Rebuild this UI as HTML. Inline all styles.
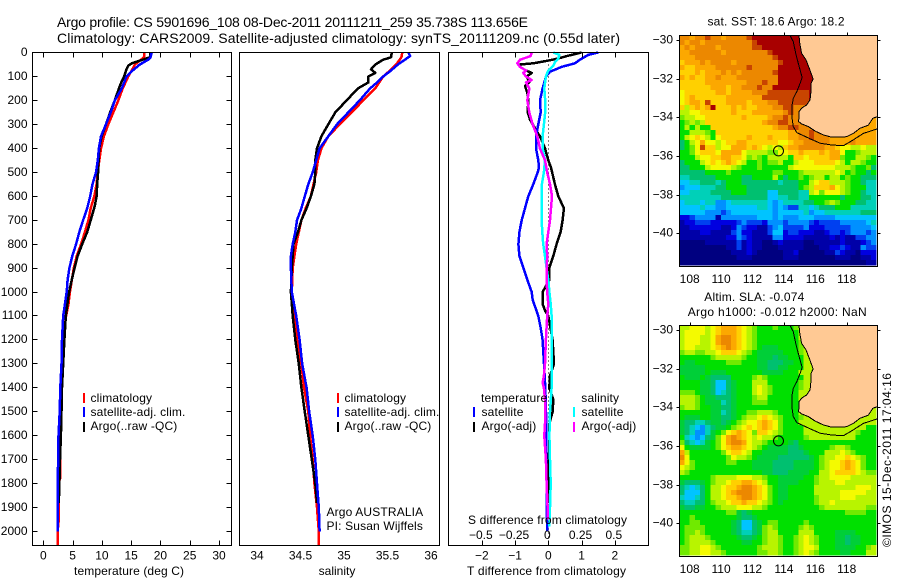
<!DOCTYPE html>
<html lang="en">
<head>
<meta charset="utf-8">
<title>Argo profile 5901696_108</title>
<style>
html,body{margin:0;padding:0;background:#fff}
svg{display:block}
text{font-family:"Liberation Sans",sans-serif;font-size:12px;fill:#000}
.title{font-size:14px}
.lg{letter-spacing:.15px}
.frame{fill:none;stroke:#000;stroke-width:1;shape-rendering:crispEdges}
.tick{stroke:#000;stroke-width:1;shape-rendering:crispEdges}
.key{stroke-width:2;shape-rendering:crispEdges}
.series{fill:none;stroke-width:2.5;shape-rendering:crispEdges;stroke-linejoin:round}
</style>
</head>
<body>
<svg id="figure" xmlns="http://www.w3.org/2000/svg" width="900" height="580" viewBox="0 0 900 580">
  <rect x="0" y="0" width="900" height="580" fill="#fff"/>
  <text class="title" x="57" y="27" textLength="471" lengthAdjust="spacing">Argo profile: CS 5901696_108 08-Dec-2011 20111211_259 35.738S 113.656E</text>
  <text class="title" x="57" y="43" textLength="563" lengthAdjust="spacing">Climatology: CARS2009. Satellite-adjusted climatology: synTS_20111209.nc (0.55d later)</text>

  <g id="panel-t"></g>
  <g id="panel-s"></g>
  <g id="panel-d"></g>
  <g id="map-sst"></g>
  <g id="map-sla"></g>

  <g>
    <line class="key" x1="84" x2="84" y1="393" y2="403" stroke="#f00"/>
    <text class="lg" x="90.5" y="402">climatology</text>
    <line class="key" x1="84" x2="84" y1="407" y2="417" stroke="#00f"/>
    <text class="lg" x="90.5" y="416">satellite-adj. clim.</text>
    <line class="key" x1="84" x2="84" y1="422" y2="432" stroke="#000"/>
    <text class="lg" x="90.5" y="430">Argo(..raw -QC)</text>
  </g>
  <g>
    <line class="key" x1="338" x2="338" y1="393" y2="403" stroke="#f00"/>
    <text class="lg" x="344.5" y="402">climatology</text>
    <line class="key" x1="338" x2="338" y1="407" y2="417" stroke="#00f"/>
    <text class="lg" x="344.5" y="416">satellite-adj. clim.</text>
    <line class="key" x1="338" x2="338" y1="422" y2="432" stroke="#000"/>
    <text class="lg" x="344.5" y="430">Argo(..raw -QC)</text>
    <text class="lg" x="326.5" y="516">Argo AUSTRALIA</text>
    <text class="lg" x="326.5" y="530">PI: Susan Wijffels</text>
  </g>
  <g>
    <text class="lg" x="481" y="402">temperature</text>
    <text class="lg" x="581.3" y="402">salinity</text>
    <line class="key" x1="474" x2="474" y1="407" y2="417" stroke="#00f"/>
    <text class="lg" x="481.5" y="416">satellite</text>
    <line class="key" x1="474" x2="474" y1="422" y2="432" stroke="#000"/>
    <text class="lg" x="481.5" y="430">Argo(-adj)</text>
    <line class="key" x1="574" x2="574" y1="407" y2="417" stroke="#0ff"/>
    <text class="lg" x="581.5" y="416">satellite</text>
    <line class="key" x1="574" x2="574" y1="422" y2="432" stroke="#f0f"/>
    <text class="lg" x="581.5" y="430">Argo(-adj)</text>
  </g>

  <text x="129" y="575" text-anchor="middle" textLength="110" lengthAdjust="spacing">temperature (deg C)</text>
  <text x="337" y="575" text-anchor="middle">salinity</text>
  <text x="546.5" y="575" text-anchor="middle" textLength="159" lengthAdjust="spacing">T difference from climatology</text>
  <text x="547.5" y="524" text-anchor="middle" textLength="159" lengthAdjust="spacing">S difference from climatology</text>

  <text x="776" y="25.5" text-anchor="middle" textLength="137" lengthAdjust="spacing">sat. SST: 18.6 Argo: 18.2</text>
  <text x="704.3" y="301" textLength="100" lengthAdjust="spacing">Altim. SLA: -0.074</text>
  <text x="687.7" y="316" textLength="179" lengthAdjust="spacing">Argo h1000: -0.012 h2000: NaN</text>
  <text transform="translate(891 547) rotate(-90)" textLength="174" lengthAdjust="spacing">©IMOS 15-Dec-2011 17:04:16</text>
</svg>

<script>
// ---------- temperature profiles (depth m, deg C) ----------
const tempClimDepth = [0,20,50,75,100,150,200,250,300,350,400,450,500,550,600,650,700,750,800,850,900,1000,1050,1100,1200,1300,1400,1500,1600,1700,1780,1800,1950,2000,2058];
const tempClimValue = [17.2,17.2,15.65,15.1,14.5,13.55,12.8,11.95,11.1,10.35,9.85,9.56,9.3,9.1,8.7,8.1,7.7,7.1,6.45,5.7,5.2,4.55,4.3,3.9,3.4,3.1,3.0,2.85,2.85,2.85,2.85,2.55,2.65,2.45,2.45];
const tempSatDepth = [0,20,30,50,75,100,150,200,250,300,350,400,450,500,550,600,650,700,750,800,850,900,950,1000,1100,1200,1300,1400,1500,1600,1700,1800,2000];
const tempSatValue = [18.5,18.3,17.9,16.5,15.25,14.2,13.4,12.2,11.5,10.7,9.85,9.5,9.3,9.0,8.4,8.0,7.5,6.8,6.15,5.6,4.95,4.45,4.15,4.0,3.4,3.2,3.1,2.9,2.8,2.6,2.55,2.45,2.45];
const tempArgoDepth = [0,20,30,45,55,70,100,120,150,200,250,300,350,400,450,500,550,600,640,700,750,800,850,900,950,1000,1100,1200,1300,1400,1500,1600,1700,1800,1880];
const tempArgoValue = [18.3,18.2,17,15.1,14.5,14.2,13.8,13.4,12.9,12.2,11.4,10.7,9.95,9.55,9.45,9.35,9.2,9.1,8.8,8.1,7.5,6.65,5.85,5.35,4.85,4.4,3.85,3.6,3.4,3.2,3.1,3,2.85,2.75,2.65];

// ---------- salinity profiles ----------
const salClimDepth = [0,20,50,75,100,150,200,250,300,350,400,450,500,550,600,650,700,750,800,850,900,1000,1100,1200,1300,1400,1500,1600,1700,1800,1900,2000,2058];
const salClimValue = [35.67,35.66,35.6,35.53,35.45,35.36,35.22,35.09,34.95,34.82,34.74,34.70,34.68,34.65,34.62,34.56,34.51,34.48,34.45,34.43,34.41,34.40,34.43,34.46,34.51,34.54,34.59,34.61,34.64,34.66,34.69,34.71,34.71];
const salSatDepth = [0,15,30,50,75,100,125,150,200,250,300,350,400,450,500,550,600,650,700,750,800,850,900,1000,1100,1200,1300,1400,1500,1600,1700,1800,1900,2000];
const salSatValue = [35.74,35.76,35.70,35.62,35.54,35.45,35.38,35.30,35.18,35.05,34.92,34.82,34.72,34.68,34.64,34.59,34.55,34.51,34.46,34.44,34.41,34.39,34.39,34.40,34.45,34.49,34.52,34.57,34.60,34.64,34.67,34.69,34.71,34.72];
const salArgoDepth = [0,20,30,50,70,85,100,125,150,200,250,300,350,400,450,500,550,600,650,700,750,800,850,900,1000,1100,1200,1300,1400,1500,1600,1700,1800,1880];
const salArgoValue = [35.55,35.54,35.45,35.36,35.31,35.36,35.28,35.28,35.16,35.03,34.90,34.82,34.74,34.69,34.67,34.67,34.66,34.62,34.57,34.51,34.47,34.42,34.41,34.40,34.39,34.41,34.44,34.48,34.51,34.55,34.59,34.63,34.67,34.69];

// ---------- differences from climatology ----------
const diffTSatDepth = [0,10,30,45,60,80,100,150,200,250,300,350,400,450,480,500,550,600,650,700,750,800,850,900,950,1000,1033,1100,1150,1200,1250,1300,1400,1500,1600,1700,1800,1900,2000];
const diffTSatValue = [1.5,1.2,.95,.8,.4,.05,-.07,-.17,-.25,-.23,-.3,-.37,-.37,-.3,-.28,-.32,-.45,-.6,-.7,-.8,-.87,-.9,-.87,-.75,-.63,-.5,-.47,-.3,-.23,-.17,-.15,-.13,-.09,-.07,-.07,-.07,-.05,-.05,-.03];
const diffTArgoDepth = [0,15,25,35,45,50,60,75,85,100,125,140,170,200,250,280,300,340,350,400,450,480,550,600,650,700,750,800,850,900,950,1000,1050,1080,1100,1200,1250,1300,1350,1400,1450,1500,1550,1650,1700,1800,1880];
const diffTArgoValue = [1,.55,.3,-.05,-.45,-.85,-.85,-.67,-.5,-.65,-.57,-.7,-.63,-.6,-.62,-.55,-.47,-.3,-.25,-.1,0,.08,.2,.3,.47,.43,.37,.25,.15,.03,.03,-.17,-.17,-.09,0,.13,.15,.17,.05,.03,.15,.13,.03,.03,.01,0,0];
const diffSSatDepth = [0,10,25,40,55,75,100,150,200,250,300,350,400,450,500,550,600,700,750,800,850,900,950,1000,1050,1100,1200,1300,1400,1500,1600,1700,1800,1900,1980];
const diffSSatValue = [.038,.083,.075,.05,.038,0,-.018,-.03,-.023,-.023,-.033,-.043,-.043,-.025,-.033,-.048,-.05,-.05,-.045,-.038,-.025,-.013,0,.008,.018,.025,.025,.025,.025,.013,.008,.013,.018,.013,.008];
const diffSArgoDepth = [0,15,30,45,60,75,85,100,115,125,150,200,250,300,350,400,450,500,550,600,650,700,750,800,850,900,950,1000,1050,1100,1200,1300,1350,1380,1400,1450,1500,1550,1600,1700,1800,1900,1950];
const diffSArgoValue = [-.125,-.133,-.213,-.233,-.213,-.168,-.188,-.168,-.125,-.168,-.143,-.158,-.143,-.118,-.083,-.063,-.025,-.008,.013,.028,.02,.013,0,-.013,-.008,-.013,-.013,-.008,0,-.008,-.018,-.025,-.033,-.043,-.033,-.025,-.025,-.025,-.03,-.018,-.013,-.005,-.005];

// ---------- tick labels ----------
const depthTicks = [0,100,200,300,400,500,600,700,800,900,1000,1100,1200,1300,1400,1500,1600,1700,1800,1900,2000];
const tempTicks = [0,5,10,15,20,25,30];
const salTicks = [34,34.5,35,35.5,36];
const diffTTicks = [-2,-1,0,1,2];
const diffSTicks = [-0.5,-0.25,0,0.25,0.5];
const lonTicks = [108,110,112,114,116,118];
const latTicks = [-30,-32,-34,-36,-38,-40];

// ---------- gridded map fields: one character per cell, index into the colour ramp ----------
const sstRows = [
"eedee feede eeefg ggggg ggggg ggggg ggggg ggg",
"edeed eeeee eeeef ggggg ggggg ggggg ggggg ggg",
"dedee eedee eeeef fgggg ggggg ggggg ggggg ggg",
"ddeee eeede eeeee eefgg ggggg ggggg ggggg ggg",
"dddee eeeee eeeee eeefg ggggg ggggg ggggg ggg",
"cddde deeee deeee eeeef ggggg ggggg ggggg ggg",
"dccdd ddeee eeefe eeeeg ggggg ggggg ggggg ggg",
"cccdc ddded edeee eeefg ggggg ggggg ggggg ggg",
"dcdcc ddedd deeee eeeeg ggggg ggggg ggggg ggg",
"ccccc ddddd dddee efeeg ggggg ggggg ggggg ggg",
"ccccc cdddc ddeee feegg ggggg ggggg ggggg ggg",
"bcccc ccddc dddde eefff fffff ggggg ggggg ggg",
"bcdcc ccccd ddddd dffff fffff ggggg ggggg ggg",
"bcddc fcccd dddcd ddeef fffff ggggg ggggg ggg",
"cacdc dgccc dcdcc dddee ffeee eeeee ddddd ddd",
"aabbc ccccc dcccd ddddd efeee eeeee ddddd ddd",
"9aabb ccccc ccdcc ccdee feeee ddddd ddddd ddd",
"89a9a ccccc ccccc cdeef feeee ddddd ddddd ddd",
"8a8a8 8cccc ccccc cccde effee eeddd ddddd ddd",
"88aaa 98ccc ccccc ccccc cddee feeee ddddd ddd",
"8abcb a8bcc cccdc ccdcc cddee feeed ddddd ddd",
"78abd bbabc cddcc ccccb bcdde eeeed ddded ddd",
"789bf ccabb dddcd cbaba cddee eeedd cbbaa baa",
"889bc ccbdd ddbaa aa99b bccdc ccdcd db889 aaa",
"888ab bccdd ccb9a 98aaa a8ccb ccccd d988a a98",
"7888a bcbcd cba88 9899a 88abb bcccc ba8aa 988",
"77888 abbbb a9888 98888 8abbb bbbbb aaa98 897",
"77777 88889 88888 88899 8889a aaaaa ba898 878",
"66777 77888 88778 888a8 78898 9aa8a a8988 777",
"55667 77678 88777 77776 77788 abcca aa988 766",
"45556 66778 88877 77777 77789 acccd ba988 866",
"55666 67777 88877 77557 77766 ab9bb ba988 766",
"66666 66677 77777 77556 67766 88888 87888 776",
"56665 66445 66666 66545 66667 7889a 98887 766",
"55556 55445 55555 66545 43366 56777 88866 666",
"55555 44434 55555 55545 55556 45566 66666 777",
"22344 44144 44444 55545 44455 54444 55555 555",
"12233 32222 23433 32444 34444 32333 34444 456",
"11222 22211 24322 11345 33334 22233 33344 445",
"11112 21111 34221 11355 23322 21123 32344 434",
"11111 11112 24321 11144 22221 11112 12113 344",
"00000 11111 13121 10012 11110 01111 12111 234",
"00000 00001 13121 10001 11110 00112 23211 433",
"00000 00000 11121 00000 11200 00011 32110 222",
"00000 00000 01110 00000 11100 00000 11100 112",
"00000 00000 00000 00000 00000 00000 00000 011"
];
const slaRows = [
"aabbb abcdd dcba9 88898 889aa aaaaa aaaaa aaa",
"abbbb abcdd dcba9 88888 888aa aaaaa aaaaa aaa",
"abbba abdee dcba9 88888 888aa aaaaa aaaaa aaa",
"abbba abdee dcba9 88888 8889a aaaaa aaaaa aaa",
"abbaa abcde dcba9 8mmm8 8889a aaaaa aaaaa aaa",
"9aa99 aabcc cba98 mmmmm 8889a aaaaa aaaaa aaa",
"88888 89aaa aa988 mmm7m m888a aaaaa aaaaa aaa",
"8mm88 88889 99888 mm777 mm88a aaaaa aaaaa aaa",
"mmmmm 88888 88888 mm77m m888a aaaaa aaaaa aaa",
"mmmmm 8mmm8 88888 8mmmm 888aa aaaaa aaaaa aaa",
"8mmm8 m7777 88889 a9888 8888a aaaaa aaaaa aaa",
"8888m m7557 m888a aa888 8889a aaaaa aaaaa aaa",
"8888m m7557 m888a ba988 8889a aaaaa aaaaa aaa",
"9998m m7567 m888a ba988 888aa aaaaa aaaaa aaa",
"aaa98 mm777 m8889 aa888 888aa aaaaa aaaaa aaa",
"aaa98 mmm67 m8889 99888 888aa aaaaa aaaaa aaa",
"9aa98 8mm77 m8888 88888 888aa aaaaa aaaaa aaa",
"88888 8mm67 m8899 aaa98 888aa aaaaa aaaaa aaa",
"8mmm8 8mm77 m89aa bcba9 8889a aaaaa aaaaa aaa",
"m7766 7mm7m 89abb cdcb9 888aa aaaaa aaaaa aaa",
"m7654 67mm8 9abcb cdcb9 8888a aaaaa aaaaa a88",
"m7644 6m89b cdcb9 ccba9 8888a aaaaa aaaa9 888",
"86545 7m9bd edcba baa98 88889 aaaaa aaaa8 888",
"97656 m89bd eedba a9888 8m788 88888 88888 888",
"b8mmm m89bc ddcba 98mmm m77m8 88889 aa988 888",
"da888 8889b ccba8 8mmmm m777m 888aa aba98 888",
"eb888 88889 baa98 mmmm7 77777 m89aa bbcba 988",
"db988 88889 9888m mmm77 77mmm m89ab bcdcb 988",
"ba988 88888 8888m mmm77 77mmm m89ab bcdcb 988",
"a9888 88888 88888 8mm77 7mmmm 88aab ccccb a99",
"88888 89aaa abbba a988m mmmm8 89aab bbbaa aaa",
"m777m 89aab ccddc ba88m mmm88 89aaa bbaaa aaa",
"76567 8aabc cdeed cb98m m8888 8aaaa aaaab bba",
"75557 8aabc deeed cb98m m8888 8aaaa abbbb baa",
"65567 8aabc cdeed cb98m m8888 89aaa abbba aaa",
"76677 89aab ccdcc ba98m 88888 89aab aaaaa aaa",
"m77mm 889aa abbba a9888 88888 889aa aaaaa a99",
"88888 88889 9m7m8 88888 88888 88888 88999 988",
"88988 88888 8m77m 88888 88888 88888 88888 888",
"88998 88888 m7557 m8998 88889 88888 88888 888",
"89999 88888 m7557 m9a98 8889a 98888 88888 888",
"899a9 88888 m7667 m9aa8 888aa a8888 mmmm8 888",
"89aaa 98888 8m77m 89aa9 889ab a9888 mm7mm 888",
"89aaa a9888 88mm8 89aa9 889ab a9888 mm7mm 888",
"99aab ba988 88888 9aaa9 889ab ba888 mmmm8 89a",
"99aab baa98 88888 99aa9 889ab a9888 8mm88 8aa"
];
const rampColors = ["#000080","#0000a8","#0000e0","#0040f0","#0090ff","#00c4ff","#00d0b8","#00c070","#00e000","#70ea00","#b8f400","#f4fa00","#ffd000","#fca800","#ec8800","#c84400","#a80000","#00cf38"];
const rampIndex = "0123456789abcdefgm";

// ---------- coastline and isobath (degrees) ----------
const coastLon = [114.96,115.01,115.13,115.41,115.62,115.77,115.86,115.73,115.71,115.66,115.45,115.13,114.96,114.94,115.13,115.56,115.98,116.51,117.04,117.68,118,118.42,118.85,119.38,119.66,119.95];
const coastLat = [-29.76,-30.17,-30.69,-31.03,-31.47,-31.81,-32.02,-32.24,-32.84,-33.10,-33.36,-33.53,-33.71,-34.22,-34.34,-34.48,-34.71,-34.91,-35.03,-35.03,-35.0,-34.83,-34.57,-34.40,-34.05,-33.97];
const isobathLon = [114.39,114.60,114.75,114.92,115.16,115.03,114.82,114.60,114.50,114.50,114.60,114.82,115.45,116.30,117.04,117.79,118.42,119.06,119.95];
const isobathLat = [-29.76,-30.09,-30.69,-31.21,-31.93,-32.24,-32.67,-33.02,-33.45,-33.97,-34.48,-34.79,-35.03,-35.34,-35.43,-35.47,-35.17,-34.83,-34.60];
const floatLon = 113.656;
const floatLat = -35.738;

// ---------- axis functions ----------
const NS = 'http://www.w3.org/2000/svg';
const yDepth = d => 52.5 + 0.2395 * d;
const xTemp = t => 43.3 + 5.857 * t;
const xSal = s => 257 + 87 * (s - 34);
const xDiffT = t => 548.3 + 33.25 * t;
const xDiffS = s => xDiffT(4 * s);

function add(parent, tag, attrs, text) {
  const el = document.createElementNS(NS, tag);
  for (const k in attrs) el.setAttribute(k, attrs[k]);
  if (text !== undefined) el.textContent = text;
  parent.appendChild(el);
  return el;
}
function fmt(v) { return String(v).replace('-', '\u2212'); }

function drawSeries(parent, depths, values, xFn, color, name) {
  const pts = depths.map((d, i) => xFn(values[i]).toFixed(1) + ',' + yDepth(d).toFixed(1)).join(' ');
  const el = add(parent, 'polyline', { class: 'series', points: pts, stroke: color });
  
  
}

function drawFrame(parent, left, right, top, bottom) {
  const el = add(parent, 'rect', { class: 'frame', x: left, y: top, width: right - left, height: bottom - top });
  
  
}

function drawXTicks(parent, ticks, xFn, top, bottom, labelY) {
  ticks.forEach(v => {
    const x = Math.round(xFn(v)) + 0.5;
    const a = add(parent, 'line', { class: 'tick', x1: x, x2: x, y1: top, y2: top + 5 });
    
    
    const b = add(parent, 'line', { class: 'tick', x1: x, x2: x, y1: bottom, y2: bottom - 5 });
    
    
    const t = add(parent, 'text', { x: xFn(v), y: labelY, 'text-anchor': 'middle' }, fmt(v));
    
    
  });
}

// temperature panel
const panelT = document.getElementById('panel-t');
drawSeries(panelT, tempClimDepth, tempClimValue, xTemp, '#f00', 'temperature-climatology-line');
drawSeries(panelT, tempArgoDepth, tempArgoValue, xTemp, '#000', 'temperature-argo-line');
drawSeries(panelT, tempSatDepth, tempSatValue, xTemp, '#00f', 'temperature-satellite-line');
drawFrame(panelT, 32.5, 231.5, 52.5, 545.5);
drawXTicks(panelT, tempTicks, xTemp, 52.5, 545.5, 559.5);
depthTicks.forEach(d => {
  const y = Math.floor(yDepth(d)) + 0.5;
  const a = add(panelT, 'line', { class: 'tick', x1: 32.5, x2: 37.5, y1: y, y2: y });
  
  
  const b = add(panelT, 'line', { class: 'tick', x1: 231.5, x2: 226.5, y1: y, y2: y });
  
  
  const t = add(panelT, 'text', { x: 27.5, y: y + 3.5, 'text-anchor': 'end' }, d);
  
  
});

// salinity panel
const panelS = document.getElementById('panel-s');
drawSeries(panelS, salClimDepth, salClimValue, xSal, '#f00', 'salinity-climatology-line');
drawSeries(panelS, salArgoDepth, salArgoValue, xSal, '#000', 'salinity-argo-line');
drawSeries(panelS, salSatDepth, salSatValue, xSal, '#00f', 'salinity-satellite-line');
drawFrame(panelS, 239.5, 439.5, 52.5, 545.5);
salTicks.forEach(v => {
  const t = add(panelS, 'text', { x: xSal(v), y: 559.5, 'text-anchor': 'middle' }, v);
  
  
});

// difference panel
const panelD = document.getElementById('panel-d');
const zeroLine = add(panelD, 'line', { x1: xDiffT(0), x2: xDiffT(0), y1: 52.5, y2: 545.5, stroke: '#000', 'stroke-width': 1, 'stroke-dasharray': '1 3', 'shape-rendering': 'crispEdges' });


drawSeries(panelD, diffTArgoDepth, diffTArgoValue, xDiffT, '#000', 'temperature-difference-argo-line');
drawSeries(panelD, diffTSatDepth, diffTSatValue, xDiffT, '#00f', 'temperature-difference-satellite-line');
drawSeries(panelD, diffSSatDepth, diffSSatValue, xDiffS, '#0ff', 'salinity-difference-satellite-line');
drawSeries(panelD, diffSArgoDepth, diffSArgoValue, xDiffS, '#f0f', 'salinity-difference-argo-line');
drawFrame(panelD, 448.5, 648.5, 52.5, 545.5);
drawXTicks(panelD, diffTTicks, xDiffT, 52.5, 545.5, 559.5);
diffSTicks.forEach(v => {
  const t = add(panelD, 'text', { x: xDiffS(v) - 1, y: 539, 'text-anchor': 'middle' }, fmt(v));
  
  
});

// maps
const lonStart = 107.34, lonStep = 0.33, latStart = -29.74, latStep = 0.2587;
function drawMap(groupId, rows, top, bottom, lat30Y) {
  const g = document.getElementById(groupId);
  const xLon = lon => 689.7 + 15.7 * (lon - 108);
  const yLat = lat => lat30Y + 19.33 * (-30 - lat);
  rows.forEach((row, r) => {
    const cells = row.replace(/ /g, '');
    for (let c = 0; c < cells.length; c++) {
      const x0 = xLon(lonStart + c * lonStep);
      const x1 = xLon(lonStart + (c + 1) * lonStep);
      const y0 = yLat(latStart - r * latStep);
      const y1 = yLat(latStart - (r + 1) * latStep);
      const cell = add(g, 'rect', { x: x0.toFixed(1), y: y0.toFixed(1), width: (x1 - x0 + 0.4).toFixed(1), height: (y1 - y0 + 0.4).toFixed(1), fill: rampColors[rampIndex.indexOf(cells[c])], 'shape-rendering': 'crispEdges' });
      
      
    }
  });
  const landPts = coastLon.map((lon, i) => xLon(lon).toFixed(1) + ',' + yLat(coastLat[i]).toFixed(1));
  const land = add(g, 'polygon', { points: landPts.concat(['877.5,' + (top + 0.5), landPts[0]]).join(' '), fill: '#ffc994', stroke: 'none' });
  
  
  const coast = add(g, 'polyline', { points: landPts.join(' '), fill: 'none', stroke: '#000', 'stroke-width': 1, 'shape-rendering': 'crispEdges' });
  
  
  const iso = add(g, 'polyline', { points: isobathLon.map((lon, i) => xLon(lon).toFixed(1) + ',' + yLat(isobathLat[i]).toFixed(1)).join(' '), fill: 'none', stroke: '#000', 'stroke-width': 1, 'shape-rendering': 'crispEdges' });
  
  
  const marker = add(g, 'circle', { cx: xLon(floatLon), cy: yLat(floatLat), r: 5, fill: 'none', stroke: '#000', 'stroke-width': 1 });
  
  
  drawFrame(g, 679.5, 877.5, top, bottom);
  lonTicks.forEach(lon => {
    const x = Math.round(xLon(lon)) + 0.5;
    const tk = add(g, 'line', { class: 'tick', x1: x, x2: x, y1: top, y2: top - 3 });
    
    
    const t = add(g, 'text', { x: xLon(lon), y: bottom + 16.5, 'text-anchor': 'middle' }, lon);
    
    
  });
  latTicks.forEach(lat => {
    const y = Math.round(yLat(lat)) + 0.5;
    const a = add(g, 'line', { class: 'tick', x1: 679.5, x2: 676.5, y1: y, y2: y });
    
    
    const b = add(g, 'line', { class: 'tick', x1: 877.5, x2: 880.5, y1: y, y2: y });
    
    
    const t = add(g, 'text', { x: 673, y: y + 3, 'text-anchor': 'end' }, fmt(lat));
    
    
  });
}
drawMap('map-sst', sstRows, 35.5, 266.5, 40);
drawMap('map-sla', slaRows, 325.5, 556.5, 330);
</script>
</body>
</html>
